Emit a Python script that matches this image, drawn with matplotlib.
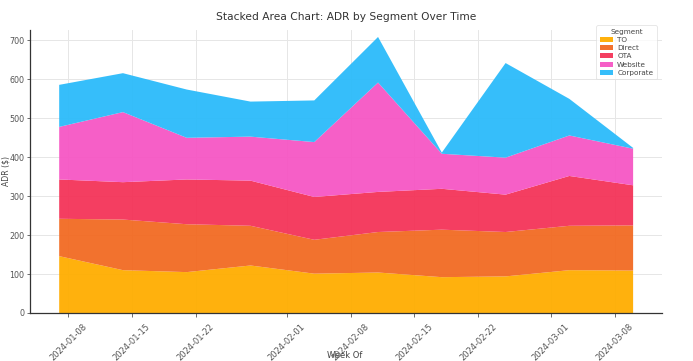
import matplotlib
matplotlib.use("Agg")
import matplotlib.pyplot as plt
import matplotlib.dates as mdates
import pandas as pd

weeks = ['2024-01-07', '2024-01-14', '2024-01-21', '2024-01-28', '2024-02-04',
         '2024-02-11', '2024-02-18', '2024-02-25', '2024-03-03', '2024-03-10']
segments = ['TO', 'Direct', 'OTA', 'Website', 'Corporate']
to_vals = [146, 110, 105, 122, 101, 104, 92, 94, 110, 109]
direct_vals = [96, 130, 123, 102, 87, 104, 122, 114, 114, 116]
ota_vals = [101, 96, 115, 116, 110, 103, 105, 96, 128, 103]
website_vals = [135, 180, 107, 113, 141, 281, 90, 95, 104, 94]
corporate_vals = [108, 100, 124, 90, 107, 117, 3, 243, 94, 2]
colors = ['#FFAD00', '#F26A22', '#F43358', '#F656C4', '#2BBBFA']

dates = pd.to_datetime(weeks)

fig = plt.figure(figsize=(6.93, 3.61), dpi=100)
ax = fig.add_axes([0.0440, 0.133, 0.9110, 0.784])

ax.stackplot(dates, to_vals, direct_vals, ota_vals, website_vals, corporate_vals,
             labels=segments, colors=colors, alpha=0.95, zorder=2)
ax.set_ylim(0, 727)

ax.grid(True, color='#e6e6e6', linewidth=0.7, zorder=0)
ax.set_axisbelow(True)
for s in ['top', 'right']:
    ax.spines[s].set_visible(False)
for s in ['left', 'bottom']:
    ax.spines[s].set_color('#333333')
    ax.spines[s].set_linewidth(0.9)

ax.set_title('Stacked Area Chart: ADR by Segment Over Time', fontsize=7.7, color='#333333', pad=7)
fig.text(0.497, 1 - 355.5 / 361, 'Week Of', fontsize=6, color='#444444',
         ha='center', va='center')
fig.text(1.0 / 693, 0.525, 'ADR ($)', fontsize=5.6, color='#444444',
         rotation=90, ha='left', va='center')

ax.xaxis.set_major_formatter(mdates.DateFormatter('%Y-%m-%d'))
ax.tick_params(axis='both', labelsize=6, colors='#555555', length=3, width=0.6)
ax.tick_params(axis='y', length=2.5, pad=2, labelsize=5.8)
plt.setp(ax.get_xticklabels(), rotation=45)

leg = ax.legend(title='Segment', loc='upper right', fontsize=5.2, title_fontsize=5.2,
                frameon=True, borderpad=0.5, handlelength=1.8, labelspacing=0.3,
                handletextpad=0.6, bbox_to_anchor=(0.998, 1.03))
leg.get_frame().set_edgecolor('#dddddd')
leg.get_frame().set_linewidth(0.6)
for t in leg.get_texts():
    t.set_color('#444444')
leg.get_title().set_color('#444444')

fig.savefig('out.png', dpi=100)
